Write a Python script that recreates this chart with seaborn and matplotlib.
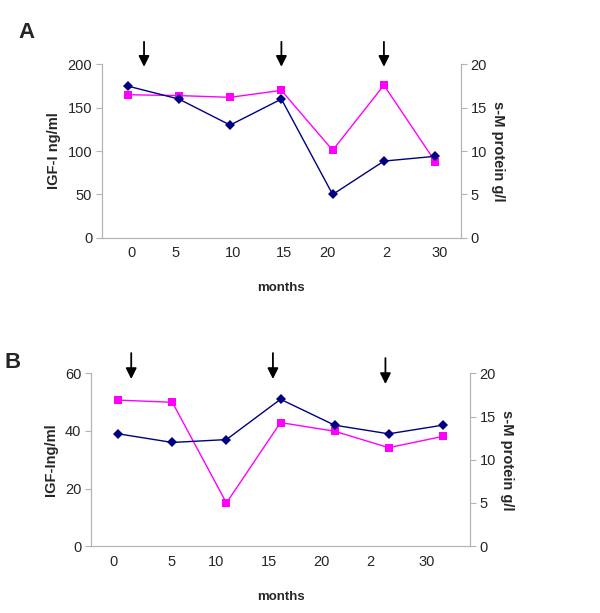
import matplotlib
matplotlib.use("Agg")
import matplotlib.pyplot as plt
import numpy as np
import seaborn as sns

# category labels on the x axis (as printed in the figure)
month_labels = ['0', '5', '10', '15', '20', '2', '30']

# panel A
a_igf = [175, 160, 130, 160, 50, 88.5, 94]          # IGF-I ng/ml (left axis)
a_protein = [16.5, 16.4, 16.2, 17.0, 10.1, 17.6, 8.8]  # s-M protein g/l (right axis)

# panel B
b_igf = [39, 36, 37, 51, 42, 39, 42]
b_protein = [16.9, 16.65, 5.0, 14.3, 13.3, 11.4, 12.7]

sns.set_style("white")
plt.rcParams['font.family'] = ['Liberation Sans', 'DejaVu Sans']

navy = '#000080'
magenta = '#FF00FF'
grey = '#b4b4b4'

fig = plt.figure(figsize=(6, 6.13), dpi=100)


def draw_panel(rect, igf, protein, left_max, left_step, left_label,
               label_pos, arrows, letter, letter_xy):
    ax = fig.add_axes(rect)
    ax2 = ax.twinx()
    x = np.arange(len(igf))

    sns.lineplot(x=x, y=protein, ax=ax2, color=magenta, marker='s',
                 markersize=6, markeredgewidth=0, linewidth=1)
    sns.lineplot(x=x, y=igf, ax=ax, color=navy, marker='D',
                 markersize=5, markeredgewidth=0, linewidth=1)
    ax.set_zorder(ax2.get_zorder() + 1)
    ax.patch.set_visible(False)

    ax.set_xlim(-0.5, len(igf) - 0.5)
    ax.set_ylim(0, left_max)
    ax.set_yticks(np.arange(0, left_max + 1, left_step))
    ax2.set_ylim(0, 20)
    ax2.set_yticks(np.arange(0, 21, 5))

    ax.set_xticks(label_pos)
    ax.set_xticklabels(month_labels)
    ax.set_xticks(np.arange(0.5, len(igf) - 0.5, 1), minor=True)
    ax.tick_params(axis='x', which='major', length=0, labelsize=10.5, pad=6)
    ax.tick_params(axis='x', which='minor', length=7, direction='inout',
                   color=grey, width=0.8)
    ax.tick_params(axis='y', length=4, color=grey, width=0.8, labelsize=10.5,
                   left=True, pad=3)
    ax2.tick_params(axis='y', length=4, color=grey, width=0.8, labelsize=10.5,
                    right=True, pad=3)

    for a in (ax, ax2):
        for side in ('left', 'right', 'bottom'):
            a.spines[side].set_visible(True)
            a.spines[side].set_color(grey)
            a.spines[side].set_linewidth(0.8)
        a.spines['top'].set_visible(False)
        a.grid(False)

    ax.set_xlabel('months', fontsize=9.5, fontweight='bold', labelpad=16)
    ax.set_ylabel(left_label, fontsize=10.5, fontweight='bold', labelpad=5)
    ax2.set_ylabel('s-M protein g/l', fontsize=10.5, fontweight='bold',
                   rotation=270, labelpad=13)

    for xa, tip, top in arrows:
        ax.annotate('', xy=(xa, tip), xytext=(xa, top),
                    xycoords=('data', 'axes fraction'),
                    textcoords=('data', 'axes fraction'),
                    annotation_clip=False,
                    arrowprops=dict(arrowstyle='-|>', color='black', lw=1.3,
                                    mutation_scale=16, shrinkA=0, shrinkB=0))

    fig.text(letter_xy[0], letter_xy[1], letter, fontsize=16,
             fontweight='bold', ha='left', va='center')
    return ax, ax2


draw_panel([0.17, 0.612, 0.598, 0.283], a_igf, a_protein, 200, 50,
           'IGF-I ng/ml',
           [0.08, 0.94, 2.05, 3.05, 3.9, 5.04, 6.09],
           [(0.32, 0.986, 1.13), (3.0, 0.986, 1.13), (5.0, 0.986, 1.13)],
           'A', (0.03, 1 - 32 / 613))

draw_panel([0.152, 0.109, 0.631, 0.282], b_igf, b_protein, 60, 20,
           'IGF-Ing/ml',
           [-0.09, 0.98, 1.81, 2.79, 3.75, 4.66, 5.71],
           [(0.24, 0.967, 1.117), (2.86, 0.967, 1.117), (4.94, 0.938, 1.088)],
           'B', (0.008, 1 - 362 / 613))

fig.savefig('out.png', dpi=100)
